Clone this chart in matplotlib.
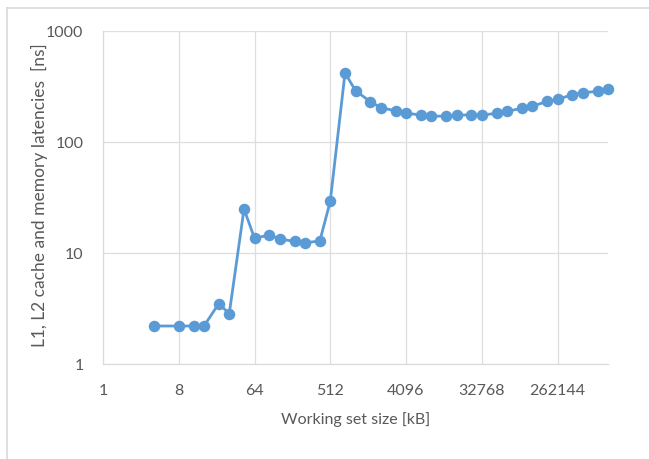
import matplotlib
matplotlib.use("Agg")
import matplotlib.pyplot as plt
from matplotlib.lines import Line2D
from matplotlib.ticker import FixedLocator, FixedFormatter, NullLocator

# Data
sizes_kb = [4, 8, 12, 16, 24, 32, 48, 64, 96, 128, 192, 256, 384, 512, 768,
            1024, 1536, 2048, 3072, 4096, 6144, 8192, 12288, 16384, 24576,
            32768, 49152, 65536, 98304, 131072, 196608, 262144, 393216,
            524288, 786432, 1048576]
latency_ns = [2.2, 2.2, 2.2, 2.2, 3.5, 2.84, 24.9, 13.6, 14.5, 13.4, 12.7, 12.4,
              12.8, 29.2, 419, 290, 231, 204, 191, 182, 175, 171, 171, 174, 176,
              175, 181, 189, 201, 210, 232, 242, 267, 278, 286, 298]
x_ticks = [1, 8, 64, 512, 4096, 32768, 262144]
x_tick_labels = ["1", "8", "64", "512", "4096", "32768", "262144"]
y_ticks = [1, 10, 100, 1000]
y_tick_labels = ["1", "10", "100", "1000"]

BLUE = "#5B9BD5"
TXT = "#595959"
GRID = "#D9D9D9"

plt.rcParams['font.family'] = ['Lato', 'DejaVu Sans']

fig = plt.figure(figsize=(6.49, 4.60), dpi=100)
ax = fig.add_axes([103/649, 1 - 365/460, (608 - 103)/649, (365 - 32)/460])

ax.plot(sizes_kb, latency_ns, color=BLUE, lw=2.0, marker='o', markersize=8.3,
        markeredgewidth=0, clip_on=False, zorder=3)

ax.set_xscale('log', base=2)
ax.set_yscale('log')
ax.set_xlim(1, 1048576)
ax.set_ylim(1, 1000)

ax.xaxis.set_major_locator(FixedLocator(x_ticks))
ax.xaxis.set_major_formatter(FixedFormatter(x_tick_labels))
ax.xaxis.set_minor_locator(NullLocator())
ax.yaxis.set_major_locator(FixedLocator(y_ticks))
ax.yaxis.set_major_formatter(FixedFormatter(y_tick_labels))
ax.yaxis.set_minor_locator(NullLocator())

ax.grid(True, which='major', color="#DEDEDE", lw=0.9)
ax.set_axisbelow(True)
for s in ['top', 'right']:
    ax.spines[s].set_visible(False)
ax.spines['left'].set_color(GRID)
ax.spines['bottom'].set_color(GRID)
ax.tick_params(axis='both', length=0, colors=TXT, labelsize=11.5)
ax.tick_params(axis='x', pad=14)
ax.tick_params(axis='y', pad=14)

ax.set_xlabel("Working set size [kB]", color=TXT, fontsize=11.5)
ax.xaxis.set_label_coords(0.5, -0.14)
ax.set_ylabel("L1, L2 cache and memory latencies  [ns]", color=TXT, fontsize=12.5)
ax.yaxis.set_label_coords(-0.108, 0.51)

# outer chart border (top and left visible)
fig.add_artist(Line2D([7/649, 1], [1 - 9/460, 1 - 9/460], color=GRID, lw=1.2,
                      transform=fig.transFigure))
fig.add_artist(Line2D([7/649, 7/649], [0, 1 - 9/460], color=GRID, lw=1.2,
                      transform=fig.transFigure))

fig.savefig("out.png", dpi=100)
